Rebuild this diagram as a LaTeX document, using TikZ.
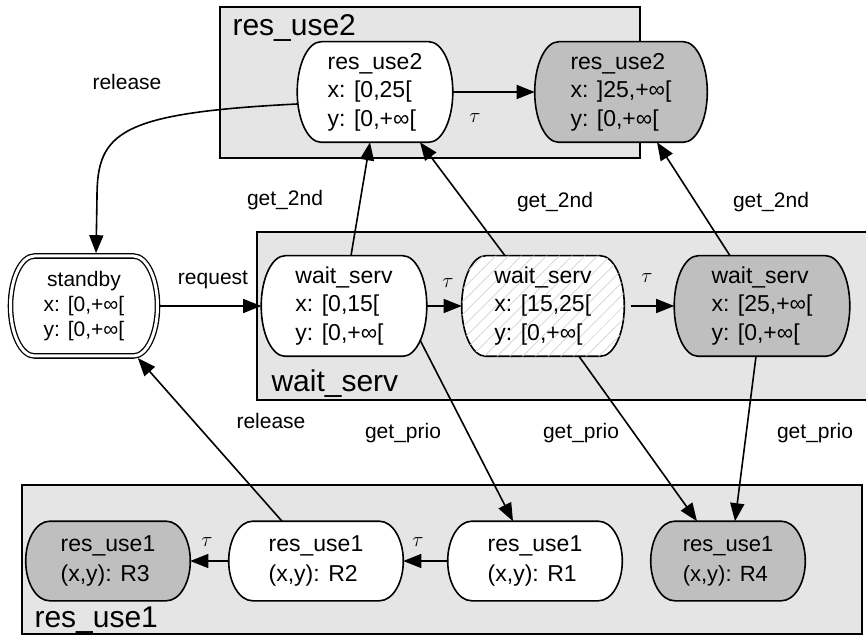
\documentclass[tikz,border=0pt]{standalone}
\usepackage{fontspec}
\setmainfont{Liberation Sans}
\usetikzlibrary{arrows.meta,patterns.meta,calc}
\pgfdeclarelayer{bg}
\pgfdeclarelayer{blob}
\pgfsetlayers{bg,blob,main}

\tikzset{
  state/.style={rectangle, line width=1.6pt, align=left, font=\fontsize{23}{28.5}\selectfont, minimum height=99pt},
  small/.style={minimum height=78pt, font=\fontsize{23}{30}\selectfont},
  outline/.style={draw, line width=1.6pt},
  plainfill/.style={fill=white},
  greyfill/.style={fill=gray!50},
  hatchfill/.style={fill=white, postaction={pattern={Lines[angle=45,distance=9pt,line width=0.7pt]}, pattern color=gray!35}},
  cluster/.style={draw, line width=1.6pt, fill=gray!20},
  clabel/.style={anchor=base west, font=\fontsize{30}{36}\selectfont},
  trans/.style={line width=1.6pt, -{Triangle[length=18pt,width=14pt]}},
  lbl/.style={font=\fontsize{21}{25}\selectfont},
  tau/.style={font=\fontsize{20}{24}\selectfont},
}

\begin{document}
\begin{tikzpicture}[x=1pt,y=1pt]
\useasboundingbox (0,0) rectangle (866,637);
\begin{pgfonlayer}{bg}
\draw[cluster] (220,479) rectangle (640,630);
\draw[cluster] (257,237) rectangle (870,405);
\draw[cluster] (22,3) rectangle (862,152);
\end{pgfonlayer}
\node[clabel] (lres2) at (229,601) {res\_use2};
\node[clabel] (lwait) at (268,245) {wait\_serv};
\node[clabel] (lres1) at (31,10) {res\_use1};

\node[state, minimum width=154pt] (res2a) at (375,545) {res\_use2\\x: [0,25[\\y: [0,+∞[};
\node[state, minimum width=171pt] (res2b) at (621,545) {res\_use2\\x: ]25,+∞[\\y: [0,+∞[};
\node[state, line width=1.3pt, outer sep=0pt, minimum width=147pt, minimum height=100pt,
  align=center, font=\fontsize{21}{25}\selectfont] (stb) at (84,331) {standby\\x: [0,+∞[\\y: [0,+∞[};
\node[state, minimum width=164pt] (ws1) at (344,331) {wait\_serv\\x: [0,15[\\y: [0,+∞[};
\node[state, minimum width=161pt] (ws2) at (543,331) {wait\_serv\\x: [15,25[\\y: [0,+∞[};
\node[state, minimum width=174pt] (ws3) at (762,331) {wait\_serv\\x: [25,+∞[\\y: [0,+∞[};
\node[state, small, minimum width=163pt] (r3) at (108,76) {res\_use1\\(x,y): R3};
\node[state, small, minimum width=173pt] (r2) at (316,76) {res\_use1\\(x,y): R2};
\node[state, small, minimum width=173pt] (r1) at (535,76) {res\_use1\\(x,y): R1};
\node[state, small, minimum width=153pt, font=\fontsize{22}{30}\selectfont] (r4) at (728,76) {res\_use1\\(x,y): R4};

% rounded outlines behind the state texts
\begin{pgfonlayer}{blob}
\foreach \nd/\fl in {res2a/plainfill, res2b/greyfill, stb/plainfill, ws1/plainfill, ws2/hatchfill,
    ws3/greyfill, r3/greyfill, r2/plainfill, r1/plainfill, r4/greyfill}
  \draw[outline, \fl] let \p1=(\nd.north east), \p2=(\nd.south west), \n1={(\y1-\y2)/2} in
    (\x2+24pt,\y1) -- (\x1-24pt,\y1) arc[start angle=90, end angle=-90, x radius=24pt, y radius=\n1]
    -- (\x2+24pt,\y2) arc[start angle=270, end angle=90, x radius=24pt, y radius=\n1] -- cycle;
\draw[line width=1.3pt, double, double distance=3pt] let \p1=(stb.north east), \p2=(stb.south west), \n1={(\y1-\y2)/2} in
    (\x2+24pt,\y1) -- (\x1-24pt,\y1) arc[start angle=90, end angle=-90, x radius=24pt, y radius=\n1]
    -- (\x2+24pt,\y2) arc[start angle=270, end angle=90, x radius=24pt, y radius=\n1] -- cycle;
\end{pgfonlayer}

\draw[trans] (res2a.east) -- (res2b.west) node[tau] at (475,519) {$\tau$};
\draw[trans, shorten >=2.8pt] ([yshift=-12pt]res2a.west) .. controls (120,524) and (97,505) .. (97,440) -- ([xshift=12pt]stb.north)
  node[lbl] at (127,555) {release};
\draw[trans, shorten <=2.8pt] (stb.east) -- (ws1.west) node[lbl] at (213,357) {request};
\draw[trans] (ws1.east) -- (ws2.west) node[tau] at (448,354) {$\tau$};
\draw[trans, shorten <=7pt] (ws2.east) -- (ws3.west) node[tau] at (647,359) {$\tau$};
\draw[trans] ([xshift=7pt]ws1.north) -- ([xshift=-5pt]res2a.south) node[lbl] at (285,437) {get\_2nd};
\draw[trans] ([xshift=-38pt]ws2.north) -- ([xshift=45pt]res2a.south) node[lbl] at (555,435) {get\_2nd};
\draw[trans] ([xshift=-32pt]ws3.north) -- ([xshift=36pt]res2b.south) node[lbl] at (771,435) {get\_2nd};
\draw[trans] ([shift={(76pt,-34pt)}]ws1.center) -- ([xshift=-22pt]r1.north) node[lbl] at (403,204) {get\_prio};
\draw[trans] ([xshift=36pt]ws2.south) -- ([xshift=-31pt]r4.north) node[lbl] at (581,204) {get\_prio};
\draw[trans] ([xshift=-6pt]ws3.south) -- ([xshift=7pt]r4.north) node[lbl] at (815,204) {get\_prio};
\draw[trans, shorten >=2.8pt] ([xshift=-34pt]r2.north) -- ([xshift=52pt]stb.south) node[lbl] at (271,216) {release};
\draw[trans] (r2.west) -- (r3.east) node[tau] at (207,95) {$\tau$};
\draw[trans] (r1.west) -- (r2.east) node[tau] at (418,95) {$\tau$};
\end{tikzpicture}
\end{document}
